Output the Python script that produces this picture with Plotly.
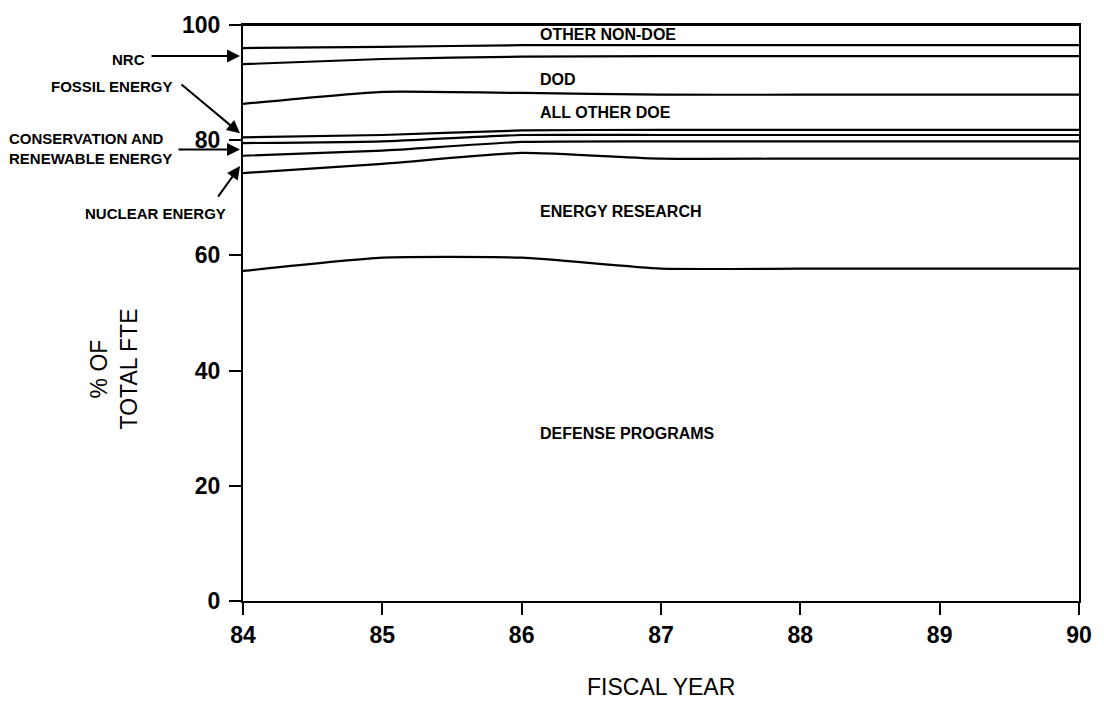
import plotly.graph_objects as go

# ---- data (percent of total FTE, stacked bottom -> top) ----
years = [84, 85, 86, 87, 88, 89, 90]
defense_programs   = [57.3, 59.6, 59.6, 57.7, 57.7, 57.7, 57.7]
energy_research    = [17.0, 16.3, 18.2, 19.1, 19.1, 19.1, 19.1]
nuclear_energy     = [3.0, 2.3, 1.9, 3.0, 3.0, 3.0, 3.0]
conservation_renew = [2.2, 1.6, 1.2, 1.1, 1.1, 1.1, 1.1]
fossil_energy      = [1.0, 1.1, 0.8, 0.9, 0.9, 0.9, 0.9]
all_other_doe      = [5.8, 7.5, 6.5, 6.1, 6.1, 6.1, 6.1]
dod                = [6.9, 5.7, 6.3, 6.7, 6.7, 6.7, 6.7]
nrc                = [2.8, 2.1, 2.0, 1.9, 1.9, 1.9, 1.9]
other_non_doe      = [4.0, 3.8, 3.5, 3.5, 3.5, 3.5, 3.5]

series_names = ["DEFENSE PROGRAMS", "ENERGY RESEARCH", "NUCLEAR ENERGY",
                "CONSERVATION AND RENEWABLE ENERGY", "FOSSIL ENERGY",
                "ALL OTHER DOE", "DOD", "NRC", "OTHER NON-DOE"]
series_vals = [defense_programs, energy_research, nuclear_energy,
               conservation_renew, fossil_energy, all_other_doe, dod, nrc,
               other_non_doe]

y_ticks = [0, 20, 40, 60, 80, 100]
x_ticks = [84, 85, 86, 87, 88, 89, 90]

W, H = 1104, 703
L, R, T, B = 243, 22, 20, 102
PW, PH = W - L - R, H - T - B

def px(x):
    return (x - L) / PW

def py(y):
    return (H - B - y) / PH

NARROW = "Liberation Sans Narrow, Arial Narrow, Liberation Sans, Arial, sans-serif"
TICKFONT = dict(family="Liberation Sans, Arial, sans-serif", size=23, color="black",
                weight="bold")

fig = go.Figure()
for name, vals in zip(series_names, series_vals):
    fig.add_trace(go.Scatter(
        x=years, y=vals, name=name, mode="lines", stackgroup="one",
        fill="none", line=dict(color="black", width=2.2, shape="spline", smoothing=0.5),
        hoverinfo="x+y+name"))

# in-plot band labels
band_labels = [("OTHER NON-DOE", 98.3), ("DOD", 90.6), ("ALL OTHER DOE", 84.8),
               ("ENERGY RESEARCH", 67.6), ("DEFENSE PROGRAMS", 29.0)]
for txt, yv in band_labels:
    fig.add_annotation(x=86.12, y=yv, xref="x", yref="y", text=f"<b>{txt}</b>",
                       showarrow=False, xanchor="left", yanchor="middle",
                       font=dict(family=NARROW, size=16, color="black"))

# left-side labels with arrows (tip in data y, tail offsets in pixels)
arrows = [(94.6, -90, 0), (81.2, -60, -50), (78.4, -63, 0), (75.5, -23, 32)]
for yv, ax, ay in arrows:
    fig.add_annotation(x=px(240), y=yv, xref="paper", yref="y", text="",
                       showarrow=True, ax=ax, ay=ay, arrowhead=2, arrowsize=1.3,
                       arrowwidth=2, arrowcolor="black", standoff=0)

side_labels = [("NRC", 147, 55), ("FOSSIL ENERGY", 174, 82),
               ("CONSERVATION AND<br>RENEWABLE ENERGY", 174, 145),
               ("NUCLEAR ENERGY", 228, 210)]
for txt, xr, yc in side_labels:
    fig.add_annotation(x=px(xr), y=py(yc), xref="paper", yref="paper",
                       text=f"<b>{txt}</b>", showarrow=False, xanchor="right",
                       yanchor="middle", align="left",
                       font=dict(family=NARROW, size=15, color="black"))

# y-axis title
fig.add_annotation(x=px(114), y=py(367), xref="paper", yref="paper",
                   text="% OF<br>TOTAL FTE", showarrow=False, textangle=-90,
                   xanchor="center", yanchor="middle",
                   font=dict(family=NARROW, size=23, color="black"))
# x-axis title
fig.add_annotation(x=px(663), y=py(688), xref="paper", yref="paper",
                   text="FISCAL YEAR", showarrow=False,
                   xanchor="center", yanchor="middle",
                   font=dict(family=NARROW, size=23, color="black"))

fig.update_layout(
    width=W, height=H, margin=dict(l=L, r=R, t=T, b=B),
    paper_bgcolor="white", plot_bgcolor="white", showlegend=False,
    font=dict(family="Liberation Sans, Arial, sans-serif", color="black"),
)
fig.update_xaxes(range=[84, 90], tickvals=x_ticks, ticktext=[str(t) for t in x_ticks],
                 ticks="outside", ticklen=12, tickwidth=2, tickcolor="black",
                 showline=True, linecolor="black", linewidth=2, mirror=True,
                 showgrid=False, zeroline=False, tickfont=TICKFONT)
fig.update_yaxes(range=[0, 100], tickvals=y_ticks,
                 ticks="outside", ticklen=12, tickwidth=2, tickcolor="black",
                 showline=True, linecolor="black", linewidth=2, mirror=True,
                 showgrid=False, zeroline=False, ticklabelstandoff=4,
                 tickfont=TICKFONT)

fig.write_html("out.html")
